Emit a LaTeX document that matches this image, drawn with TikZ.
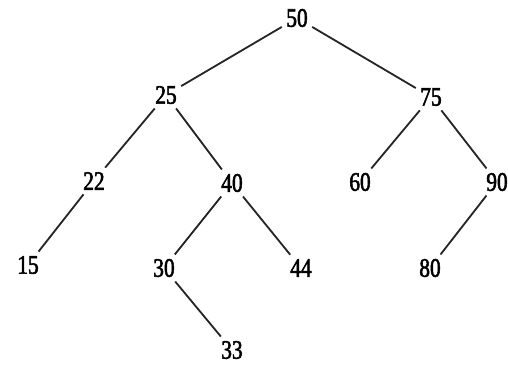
\documentclass[tikz,border=0pt]{standalone}
\usepackage{fontspec}
\setmainfont{Liberation Serif}[FakeStretch=0.8,FakeBold=2]
\usepackage{tikz}
\usetikzlibrary{positioning}

\begin{document}
\begin{tikzpicture}[
    x=0.025cm, y=-0.025cm,
    key/.style={inner sep=3pt, font=\fontsize{19}{22}\selectfont},
    edge/.style={line width=1.3pt, black!85}
  ]
    \useasboundingbox (0,0) rectangle (508,368);

    \node[key] (n50) at (297,18) {50};
    \node[key] (n25) at (166,95) {25};
    \node[key] (n75) at (431,97) {75};
    \node[key] (n22) at (94,181) {22};
    \node[key] (n40) at (232,183) {40};
    \node[key] (n60) at (360,182) {60};
    \node[key] (n90) at (497,182) {90};
    \node[key] (n15) at (28,265) {15};
    \node[key] (n30) at (164,268) {30};
    \node[key] (n44) at (301,268) {44};
    \node[key] (n80) at (430,268) {80};
    \node[key] (n33) at (232,350) {33};

    \draw[edge] (n50) -- (n25);
    \draw[edge] (n50) -- (n75);
    \draw[edge] (n25) -- (n22);
    \draw[edge] (n25) -- (n40);
    \draw[edge] (n75) -- (n60);
    \draw[edge] (n75) -- (n90);
    \draw[edge] (n22) -- (n15);
    \draw[edge] (n40) -- (n30);
    \draw[edge] (n40) -- (n44);
    \draw[edge] (n90) -- (n80);
    \draw[edge] (n30) -- (n33);
  \end{tikzpicture}
\end{document}
